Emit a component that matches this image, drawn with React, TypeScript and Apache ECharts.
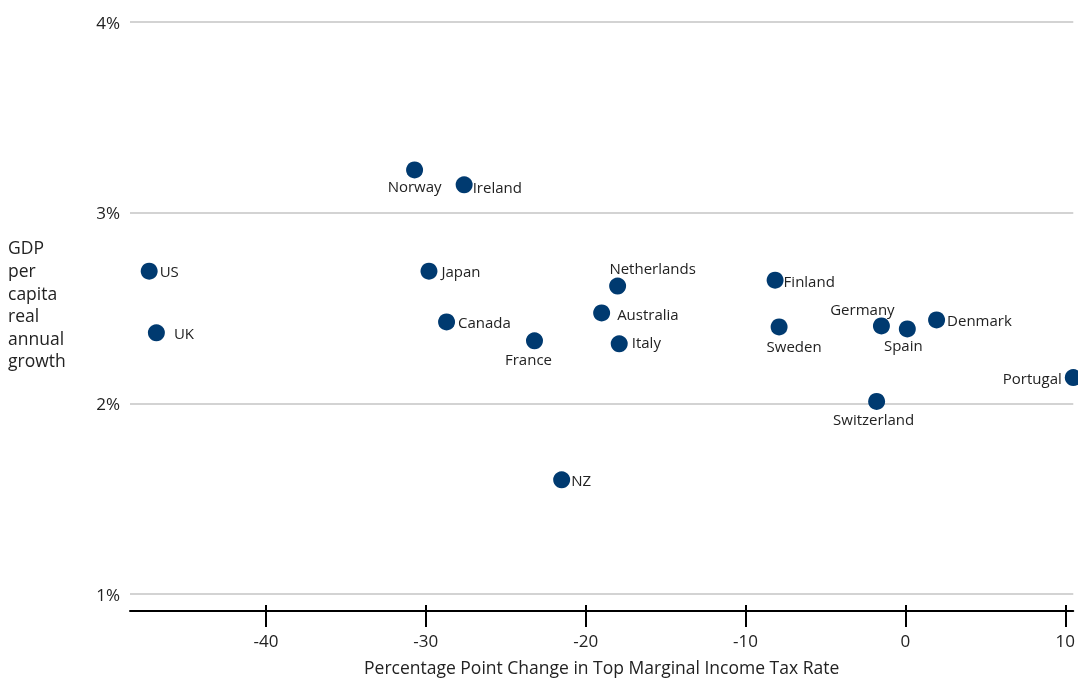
import React, { useEffect, useRef } from "react";
import * as echarts from "echarts";

const countries = ["US", "UK", "Norway", "Ireland", "Japan", "Canada", "France", "NZ", "Netherlands", "Australia", "Italy", "Finland", "Sweden", "Germany", "Spain", "Denmark", "Switzerland", "Portugal"];
const taxChange = [-47.3, -46.85, -30.7, -27.6, -29.8, -28.7, -23.2, -21.5, -18.0, -19.0, -17.9, -8.15, -7.9, -1.5, 0.12, 1.95, -1.8, 10.5];
const gdpGrowth = [2.693, 2.37, 3.224, 3.146, 2.693, 2.427, 2.328, 1.599, 2.615, 2.474, 2.312, 2.646, 2.401, 2.406, 2.39, 2.4375, 2.01, 2.135];
const xTicks = [-40, -30, -20, -10, 0, 10];
const yTicks = [1, 2, 3, 4];
const yAxisTitle = ["GDP", "per", "capita", "real", "annual", "growth"];
const xAxisTitle = "Percentage Point Change in Top Marginal Income Tax Rate";

// label placement per country: [position, dx, dy, distance]
const labelPlacement: Record<string, [string, number, number, number]> = {
  US: ["right", 0, 0, 2],
  UK: ["right", 0, 0, 9],
  Norway: ["bottom", 0, 0, 0],
  Ireland: ["right", 0, 2, 0],
  Japan: ["right", 0, 0, 4],
  Canada: ["right", 0, 0, 3],
  France: ["bottom", -6, 0, 2],
  NZ: ["right", 0, 0, 1],
  Netherlands: ["top", 35, 0, 2],
  Australia: ["right", 0, 1, 7],
  Italy: ["right", 0, -2, 4],
  Finland: ["right", 0, 1, 0],
  Sweden: ["bottom", 15, 1, 2],
  Germany: ["top", -19, 0, 1],
  Spain: ["bottom", -4, 0, 0],
  Denmark: ["right", 0, 0, 2],
  Switzerland: ["bottom", -3, 0, 2],
  Portugal: ["left", 0, 0, 3],
};

const FONT = "Open Sans";

export default function App() {
  const ref = useRef<HTMLDivElement>(null);
  useEffect(() => {
    document.body.style.margin = "0";
    document.body.style.overflow = "hidden";
    const chart = echarts.init(ref.current!, undefined, { renderer: "svg" });
    const data = countries.map((c, i) => {
      const [pos, dx, dy, dist] = labelPlacement[c];
      return {
        name: c,
        value: [taxChange[i], gdpGrowth[i]],
        label: { position: pos, offset: [dx, dy], distance: dist },
      };
    });
    chart.setOption({
      animation: false,
      grid: { left: 130, right: 0, top: 22, bottom: 83, containLabel: false },
      xAxis: [
        {
          type: "value",
          min: -48.5,
          max: 10.5,
          offset: 17,
          position: "bottom",
          splitLine: { show: false },
          axisLine: { show: true, lineStyle: { color: "#000", width: 2 } },
          axisTick: { show: true, inside: false, length: 16, customValues: xTicks, lineStyle: { color: "#000", width: 2 } },
          axisLabel: {
            color: "#222",
            fontSize: 17,
            fontFamily: FONT,
            margin: 21,
            customValues: xTicks,
          },
          name: xAxisTitle,
          nameLocation: "middle",
          nameGap: 47,
          nameTextStyle: { color: "#222", fontSize: 17.5, fontFamily: FONT },
        },
        {
          type: "value",
          min: -48.5,
          max: 10.5,
          offset: 17,
          position: "bottom",
          splitLine: { show: false },
          axisLine: { show: false },
          axisTick: { show: true, inside: true, length: 6, customValues: xTicks, lineStyle: { color: "#000", width: 2 } },
          axisLabel: { show: false },
        },
      ],
      yAxis: {
        type: "value",
        min: 1,
        max: 4,
        interval: 1,
        axisLine: { show: false },
        axisTick: { show: false },
        splitLine: { show: true, lineStyle: { color: "#d3d3d3", width: 2 } },
        axisLabel: {
          color: "#222",
          fontSize: 17,
          fontFamily: FONT,
          margin: 10,
          formatter: (v: number) => (yTicks.includes(v) ? v + "%" : ""),
        },
      },
      graphic: [
        {
          type: "text",
          left: 8,
          top: 236,
          style: {
            text: yAxisTitle.join("\n"),
            fill: "#222",
            fontSize: 17.5,
            fontFamily: FONT,
            lineHeight: 22.6,
          },
        },
      ],
      series: [
        {
          type: "scatter",
          xAxisIndex: 0,
          symbolSize: 17,
          itemStyle: { color: "#003a70", opacity: 1 },
          label: {
            show: true,
            formatter: "{b}",
            color: "#222",
            fontSize: 15,
            fontFamily: FONT,
          },
          data,
          clip: false,
        },
      ],
    });
    return () => chart.dispose();
  }, []);
  return <div ref={ref} style={{ position: "fixed", left: 0, top: 0, width: 1078, height: 681 }} />;
}
